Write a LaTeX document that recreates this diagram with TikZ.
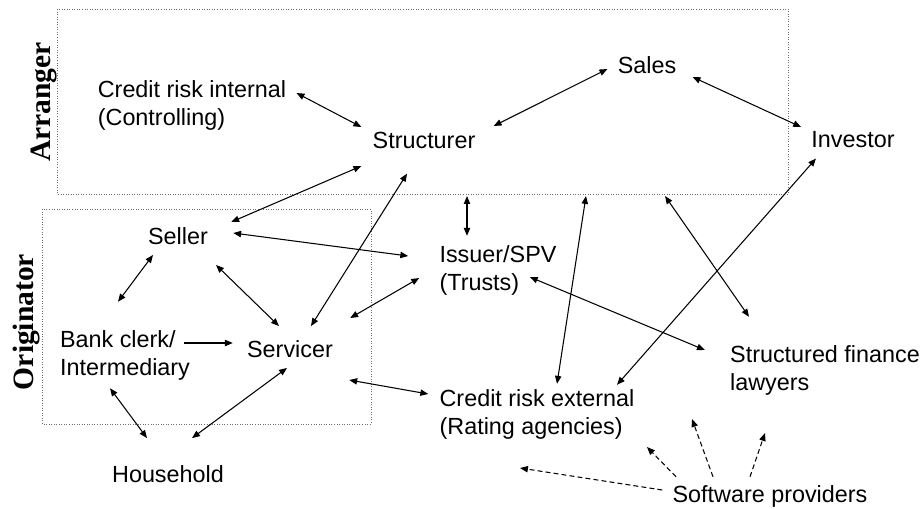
\documentclass[tikz,border=0pt]{standalone}
\usepackage{fontspec}
\setmainfont{Liberation Sans}
\newfontfamily\groupfont{Liberation Serif}
\usepackage{tikz}
\usetikzlibrary{arrows.meta}
\definecolor{sfGray}{RGB}{110,110,110}

\begin{document}
\begin{tikzpicture}[x=0.02cm, y=-0.02cm,
    actor/.style={inner sep=0pt, font=\fontsize{13.3pt}{15.9pt}\selectfont},
    grouplabel/.style={rotate=90, inner sep=0pt, font=\groupfont\bfseries\fontsize{16.8pt}{18pt}\selectfont},
    group/.style={draw=sfGray, densely dotted, line width=0.45pt},
    link/.style={line width=0.6pt, {Triangle[length=4.5pt,width=3.6pt]}-{Triangle[length=4.5pt,width=3.6pt]}},
    oneway/.style={line width=0.6pt, -{Triangle[length=4.5pt,width=3.6pt]}},
    hint/.style={line width=0.6pt, dash pattern=on 2.8pt off 1.8pt, -{Triangle[length=4.5pt,width=3.6pt]}}]
  \useasboundingbox (0,0) rectangle (922,508);

  % the two groups
  \draw[group] (57,9) rectangle (788,194);
  \draw[group] (42,209) rectangle (371,424);
  \node[grouplabel] (arrlbl) at (44,102) {Arranger};
  \node[grouplabel] (orglbl) at (27,322) {Originator};

  % parties
  \node[actor, align=left] (cri) at (192,105) {Credit risk internal\\(Controlling)};
  \node[actor] (str) at (424,140) {Structurer};
  \node[actor] (sales) at (647,65) {Sales};
  \node[actor] (inv) at (853,140) {Investor};
  \node[actor] (seller) at (178,236) {Seller};
  \node[actor, align=left] (iss) at (498,270) {Issuer/SPV\\(Trusts)};
  \node[actor, align=left] (bank) at (125,355) {Bank clerk/\\Intermediary};
  \node[actor] (serv) at (290,349) {Servicer};
  \node[actor, align=left] (cre) at (537,414) {Credit risk external\\(Rating agencies)};
  \node[actor, align=left] (sfl) at (825,370) {Structured finance\\lawyers};
  \node[actor] (hh) at (168,474) {Household};
  \node[actor] (sw) at (770,496) {Software providers};

  % free ends on the arranger box and below
  \coordinate (arrIss) at (467,196);
  \coordinate (arrCre) at (586,196);
  \coordinate (arrSfl) at (665,196);
  \coordinate (swA) at (520,468);
  \coordinate (swB) at (647,447);
  \coordinate (swC) at (692,419);
  \coordinate (swD) at (765,433);

  % relations
  \draw[link] ([shift={(10,-12)}]cri.east) -- ([shift={(-11,-13)}]str.west);
  \draw[link] ([shift={(-11,26)}]str.west) -- ([shift={(23,-14)}]seller.east);
  \draw[link] ([shift={(18,-14)}]str.east) -- ([shift={(-10,4)}]sales.west);
  \draw[link] ([shift={(16,12)}]sales.east) -- ([shift={(-10,-13)}]inv.west);
  \draw[link] ([shift={(-17,25)}]str.south) -- ([shift={(21,-14)}]serv.north);
  \draw[link] ([shift={(25,-3)}]seller.east) -- ([shift={(-31,-14)}]iss.west);
  \draw[link] (arrIss) -- ([shift={(-31,-9)}]iss.north);
  \draw[link] ([shift={(-20,8)}]iss.west) -- ([shift={(17,-31)}]serv.east);
  \draw[link] ([shift={(38,20)}]seller.south) -- ([shift={(-11,-14)}]serv.north);
  \draw[link] ([shift={(-25,10)}]seller.south) -- ([shift={(-7,-28)}]bank.north);
  \draw[oneway] ([shift={(-6,-12)}]bank.east) -- ([shift={(-14,-6)}]serv.west);
  \draw[link] ([shift={(-15,8)}]bank.south) -- ([shift={(-21,-27)}]hh.north);
  \draw[link] ([shift={(-3,10)}]serv.south) -- ([shift={(24,-27)}]hh.north);
  \draw[link] ([shift={(16,31)}]serv.east) -- ([shift={(-11,-20)}]cre.west);
  \draw[link] ([shift={(-27,7)}]iss.east) -- ([shift={(-25,-20)}]sfl.west);
  \draw[link] ([shift={(20,-5)}]cre.north) -- (arrCre);
  \draw[link] ([shift={(-76,-28)}]sfl.north) -- (arrSfl);
  \draw[link] ([shift={(-37,10)}]inv.south) -- ([shift={(80,-4)}]cre.north);

  % software providers
  \draw[hint] ([shift={(-10,-6)}]sw.west) -- (swA);
  \draw[hint] ([shift={(-94,-8)}]sw.north) -- (swB);
  \draw[hint] ([shift={(-57,-8)}]sw.north) -- (swC);
  \draw[hint] ([shift={(-20,-8)}]sw.north) -- (swD);
\end{tikzpicture}
\end{document}
